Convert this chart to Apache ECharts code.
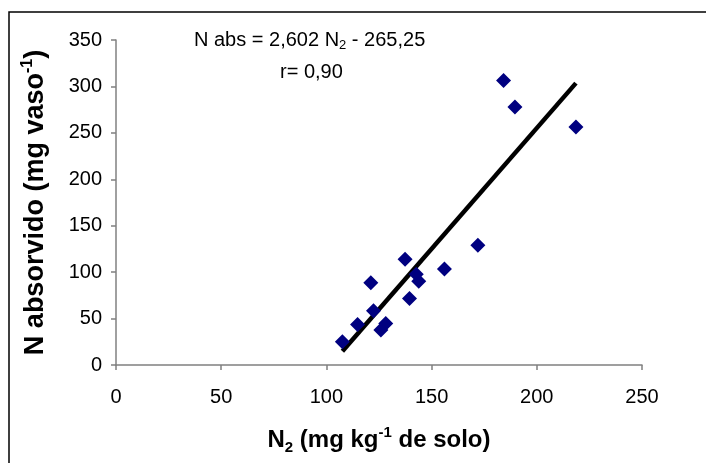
<!DOCTYPE html>
<html>
<head>
<meta charset="utf-8">
<script src="https://cdn.jsdelivr.net/npm/echarts@6/dist/echarts.min.js"></script>
<style>
  html, body { margin: 0; padding: 0; background: #fff; }
  #chart { width: 706px; height: 463px; }
</style>
</head>
<body>
<div id="chart"></div>
<script>
// Soil N2 (mg kg-1) against N taken up by plants (mg per pot)
const n2Soil    = [107.6, 114.8, 122.4, 121.1, 125.9, 128.2, 137.4, 139.5, 142.7, 143.9, 156.1, 172.0, 184.2, 189.6, 218.6];
const nAbsorbed = [25.1, 43.7, 58.4, 88.5, 37.6, 44.8, 114.0, 71.7, 97.8, 90.3, 103.5, 129.0, 306.5, 277.8, 256.3];

// Axis tick values
const xTicks = [0, 50, 100, 150, 200, 250];
const yTicks = [0, 50, 100, 150, 200, 250, 300, 350];

// Fitted regression: N abs = slope * N2 + intercept
const slope = 2.602;
const intercept = -265.25;
const rValue = 0.90;

const comma = (v, d) => v.toFixed(d).replace('.', ',');

const points = n2Soil.map((x, i) => [x, nAbsorbed[i]]);
const xMin = Math.min(...n2Soil);
const xMax = Math.max(...n2Soil);
const fitLine = [[xMin, slope * xMin + intercept], [xMax, slope * xMax + intercept]];

const FONT = '"Liberation Sans", Arial, sans-serif';

const chart = echarts.init(document.getElementById('chart'), null, { renderer: 'canvas' });

chart.setOption({
  animation: false,
  backgroundColor: '#fff',
  grid: { left: 116, top: 40, right: 64, bottom: 98, containLabel: false },
  xAxis: {
    type: 'value',
    min: xTicks[0],
    max: xTicks[xTicks.length - 1],
    interval: xTicks[1] - xTicks[0],
    splitLine: { show: false },
    axisLine: { lineStyle: { color: '#808080', width: 1.5 } },
    axisTick: { inside: false, length: 5, lineStyle: { color: '#808080', width: 1.5 } },
    axisLabel: { color: '#000', fontFamily: FONT, fontSize: 20, margin: 22 },
    name: '{b|N}{sub|2}{b| (mg kg}{sup|-1}{b| de solo)}',
    nameLocation: 'middle',
    nameGap: 60,
    nameTextStyle: {
      rich: {
        b:   { fontFamily: FONT, fontSize: 24, fontWeight: 'bold', color: '#000', lineHeight: 30, verticalAlign: 'middle' },
        sub: { fontFamily: FONT, fontSize: 15, fontWeight: 'bold', color: '#000', lineHeight: 15, verticalAlign: 'bottom' },
        sup: { fontFamily: FONT, fontSize: 15, fontWeight: 'bold', color: '#000', lineHeight: 15, verticalAlign: 'top' }
      }
    }
  },
  yAxis: {
    type: 'value',
    min: yTicks[0],
    max: yTicks[yTicks.length - 1],
    interval: yTicks[1] - yTicks[0],
    splitLine: { show: false },
    axisLine: { show: true, lineStyle: { color: '#808080', width: 1.5 } },
    axisTick: { show: true, inside: false, length: 5, lineStyle: { color: '#808080', width: 1.5 } },
    axisLabel: { color: '#000', fontFamily: FONT, fontSize: 20, margin: 14 },
    name: '{b|N absorvido (mg vaso}{sup|-1}{b|)}',
    nameLocation: 'middle',
    nameRotate: 90,
    nameGap: 64,
    nameTextStyle: {
      rich: {
        b:   { fontFamily: FONT, fontSize: 27, fontWeight: 'bold', color: '#000', lineHeight: 32, verticalAlign: 'middle' },
        sup: { fontFamily: FONT, fontSize: 16, fontWeight: 'bold', color: '#000', lineHeight: 16, verticalAlign: 'top' }
      }
    }
  },
  graphic: [
    {
      type: 'rect',
      silent: true,
      shape: { x: 9, y: 12, width: 720, height: 480 },
      style: { fill: 'none', stroke: '#000', lineWidth: 1.5 }
    },
    {
      type: 'text',
      left: 194,
      top: 30,
      style: {
        text: '{t|N abs = ' + comma(slope, 3) + ' N}{s|2}{t| - ' + comma(Math.abs(intercept), 2) + '}',
        rich: {
          t: { fontFamily: FONT, fontSize: 20, fill: '#000', lineHeight: 24, verticalAlign: 'middle' },
          s: { fontFamily: FONT, fontSize: 13, fill: '#000', lineHeight: 13, verticalAlign: 'bottom' }
        }
      }
    },
    {
      type: 'text',
      left: 280,
      top: 62,
      style: {
        text: 'r= ' + comma(rValue, 2),
        fontFamily: FONT, fontSize: 20, fill: '#000'
      }
    }
  ],
  series: [
    {
      type: 'line',
      data: fitLine,
      symbol: 'none',
      lineStyle: { color: '#000', width: 4.5 },
      z: 2
    },
    {
      type: 'scatter',
      data: points,
      symbol: 'diamond',
      symbolSize: 15,
      itemStyle: { color: '#000080', opacity: 1 },
      z: 3
    }
  ]
});
</script>
</body>
</html>
